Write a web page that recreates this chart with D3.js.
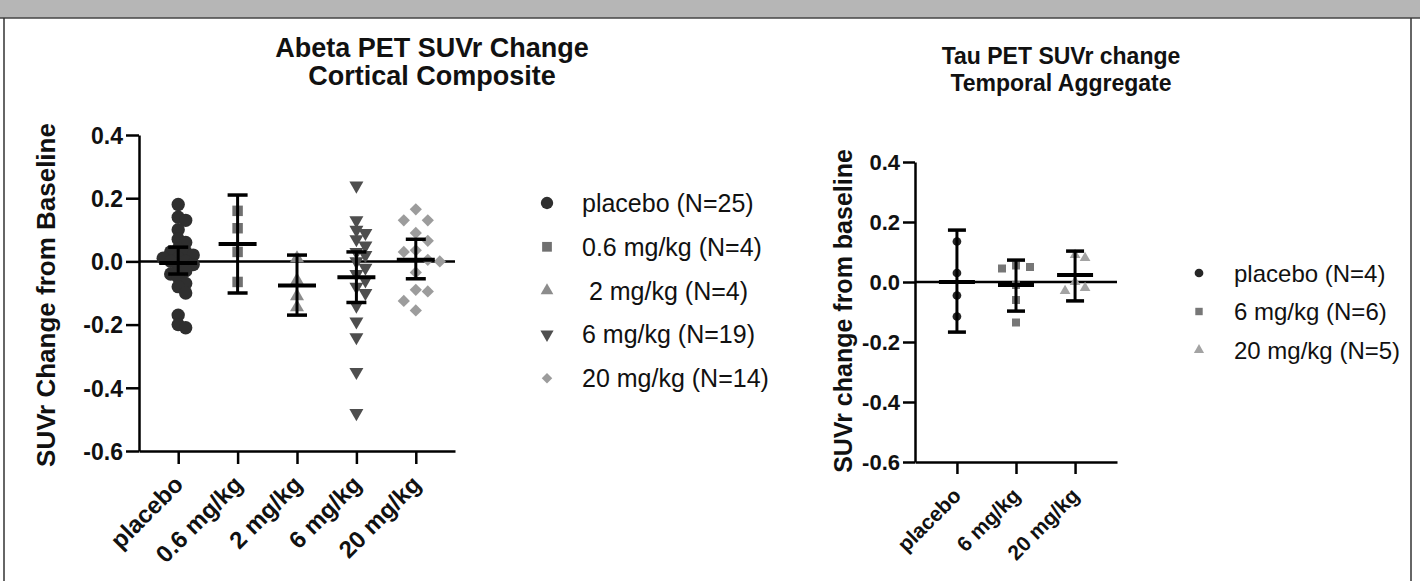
<!DOCTYPE html>
<html>
<head>
<meta charset="utf-8">
<script src="https://cdn.jsdelivr.net/npm/d3@7"></script>
<style>
  body { margin: 0; background: #fff; }
  svg { display: block; }
  text { font-family: "Liberation Sans", Arial, sans-serif; fill: #111; }
</style>
</head>
<body>
<svg id="chart" width="1420" height="581"></svg>
<script>
// ---- data ----
var yTicks = [0.4, 0.2, 0.0, -0.2, -0.4, -0.6];

var abetaGroups = ["placebo", "0.6 mg/kg", "2 mg/kg", "6 mg/kg", "20 mg/kg"];
var abetaLegend = ["placebo (N=25)", "0.6 mg/kg (N=4)", " 2 mg/kg (N=4)", "6 mg/kg (N=19)", "20 mg/kg (N=14)"];
var abetaPlacebo = [0.18, 0.14, 0.13, 0.10, 0.07, 0.06, 0.04, 0.03, 0.03, 0.02, 0.01, 0.01, 0.00,
                    0.00, -0.01, -0.02, -0.03, -0.04, -0.05, -0.07, -0.08, -0.10, -0.17, -0.20, -0.21];
var abeta06 = [0.16, 0.105, 0.03, -0.065];
var abeta2 = [0.01, -0.06, -0.11, -0.145];
var abeta6 = [0.24, 0.13, 0.10, 0.09, 0.07, 0.05, 0.03, 0.02, 0.00, -0.02,
              -0.04, -0.06, -0.08, -0.10, -0.14, -0.19, -0.24, -0.35, -0.48];
var abeta20 = [0.165, 0.13, 0.13, 0.09, 0.065, 0.035, 0.03, 0.005, 0.0,
               -0.035, -0.09, -0.095, -0.125, -0.155];
var abetaMean = [-0.005, 0.055, -0.076, -0.05, 0.005];
var abetaLow = [-0.04, -0.10, -0.17, -0.13, -0.055];
var abetaHigh = [0.045, 0.21, 0.02, 0.03, 0.07];

var tauGroups = ["placebo", "6 mg/kg", "20 mg/kg"];
var tauLegend = ["placebo (N=4)", "6 mg/kg (N=6)", "20 mg/kg (N=5)"];
var tauPlacebo = [0.135, 0.03, -0.045, -0.115];
var tau6 = [0.055, 0.05, 0.045, -0.01, -0.06, -0.135];
var tau20 = [0.09, 0.08, 0.0, -0.02, -0.03];
var tauMean = [0.0, -0.01, 0.023];
var tauLow = [-0.167, -0.097, -0.063];
var tauHigh = [0.173, 0.073, 0.103];

var svg = d3.select("#chart");

/*
 * page frame: grey strip on top, thin rules round the white panel
 */
svg.append("rect").attr("width", 1420).attr("height", 18).attr("fill", "#b6b6b6");
svg.append("line").attr("x1", 0).attr("x2", 1420).attr("y1", 18).attr("y2", 18)
    .attr("stroke", "#444").attr("stroke-width", 1.5);
[4, 1411].forEach(function(xx) {
    svg.append("line").attr("x1", xx).attr("x2", xx).attr("y1", 18).attr("y2", 581)
        .attr("stroke", "#333").attr("stroke-width", 1.5);
});

/*
 * symbol path for a marker kind
 */
function markerPath(kind, size) {
    var t = {circle: d3.symbolCircle, square: d3.symbolSquare, up: d3.symbolTriangle,
             down: d3.symbolTriangle, diamond: d3.symbolSquare}[kind];
    return d3.symbol().type(t).size(size)();
}

function markerRotate(kind) {
    if (kind === "down") return " rotate(180)";
    if (kind === "diamond") return " rotate(45)";
    return "";
}

/*
 * spread close values sideways, like a prism scatter dot plot
 */
function swarm(values, y, step) {
    var placed = [], out = [];
    values.slice().sort(function(a, b) { return b - a; }).forEach(function(v) {
        var py = y(v), k = 0, dx, ok;
        while (true) {
            dx = (k === 0) ? 0 : Math.ceil(k / 2) * step * (k % 2 ? 1 : -1);
            ok = placed.every(function(p) {
                return Math.abs(p.dx - dx) >= step * 0.95 || Math.abs(p.y - py) >= step * 0.95;
            });
            if (ok) break;
            k++;
        }
        placed.push({dx: dx, y: py});
        out.push({v: v, dx: dx});
    });
    return out;
}

function drawPanel(cfg) {
    var g = svg.append("g");
    var y = d3.scaleLinear().domain([-0.6, 0.4]).range([cfg.bottom, cfg.top]);
    var x = d3.scalePoint().domain(cfg.groups).range([cfg.left, cfg.right]).padding(cfg.pad);

    // zero line
    g.append("line")
        .attr("x1", cfg.left).attr("x2", cfg.right)
        .attr("y1", y(0)).attr("y2", y(0))
        .attr("stroke", "#000").attr("stroke-width", 2.5);

    // points
    cfg.series.forEach(function(vals, i) {
        var pts = swarm(vals, y, cfg.spread[i]);
        g.selectAll(null).data(pts).enter().append("path")
            .attr("d", markerPath(cfg.kinds[i], cfg.sizes[i]))
            .attr("transform", function(p) {
                return "translate(" + (x(cfg.groups[i]) + p.dx) + "," + y(p.v) + ")" + markerRotate(cfg.kinds[i]);
            })
            .attr("fill", cfg.colors[i]);
    });

    // mean and error bars
    cfg.groups.forEach(function(grp, i) {
        var cx = x(grp);
        g.append("line").attr("x1", cx).attr("x2", cx)
            .attr("y1", y(cfg.high[i])).attr("y2", y(cfg.low[i]))
            .attr("stroke", "#000").attr("stroke-width", 3);
        [cfg.high[i], cfg.low[i]].forEach(function(v) {
            g.append("line").attr("x1", cx - cfg.cap / 2).attr("x2", cx + cfg.cap / 2)
                .attr("y1", y(v)).attr("y2", y(v))
                .attr("stroke", "#000").attr("stroke-width", 3.5);
        });
        g.append("line").attr("x1", cx - cfg.meanW / 2).attr("x2", cx + cfg.meanW / 2)
            .attr("y1", y(cfg.mean[i])).attr("y2", y(cfg.mean[i]))
            .attr("stroke", "#000").attr("stroke-width", 4);
    });

    // axes
    var ya = g.append("g").attr("transform", "translate(" + cfg.left + ",0)")
        .call(d3.axisLeft(y).tickValues(yTicks).tickSize(cfg.tick).tickSizeOuter(0)
              .tickFormat(function(d) { return d.toFixed(1); }));
    var xa = g.append("g").attr("transform", "translate(0," + cfg.bottom + ")")
        .call(d3.axisBottom(x).tickSize(cfg.tick).tickSizeOuter(0));
    [ya, xa].forEach(function(a) {
        a.select(".domain").attr("stroke", "#000").attr("stroke-width", 2.5);
        a.selectAll(".tick line").attr("stroke", "#000").attr("stroke-width", 2.5);
    });
    ya.selectAll(".tick text")
        .attr("x", -(cfg.tick + 3)).attr("dy", "0.36em")
        .style("font-size", cfg.tickSize).style("font-weight", "bold").attr("fill", "#111");
    xa.selectAll(".tick text")
        .attr("text-anchor", "end")
        .attr("transform", "translate(" + cfg.xlabDx + "," + cfg.xlabDy + ") rotate(-45)")
        .attr("x", 0).attr("y", 0).attr("dy", 0)
        .style("font-size", cfg.xlabSize).style("font-weight", "bold").attr("fill", "#111");

    // y label
    g.append("text")
        .attr("transform", "translate(" + cfg.ylabX + "," + cfg.ylabY + ") rotate(-90)")
        .attr("text-anchor", "middle")
        .style("font-size", cfg.ylabSize).style("font-weight", "bold")
        .text(cfg.ylab);

    // title
    cfg.title.forEach(function(t, k) {
        g.append("text")
            .attr("x", cfg.titleX).attr("y", cfg.titleY + k * cfg.titleGap)
            .attr("text-anchor", "middle")
            .style("font-size", cfg.titleSize).style("font-weight", "bold")
            .text(t);
    });

    // legend
    var lg = g.selectAll(".leg").data(cfg.legend).enter().append("g")
        .attr("transform", function(d, i) { return "translate(" + cfg.legX + "," + (cfg.legY + i * cfg.legGap) + ")"; });
    lg.append("path")
        .attr("d", function(d, i) { return markerPath(cfg.kinds[i], cfg.legSizes[i]); })
        .attr("transform", function(d, i) { return markerRotate(cfg.kinds[i]).trim(); })
        .attr("fill", function(d, i) { return cfg.colors[i]; });
    lg.append("text")
        .attr("x", cfg.legText).attr("dy", "0.36em")
        .style("font-size", cfg.legSize).style("white-space", "pre")
        .text(function(d) { return d; });
}

drawPanel({
    groups: abetaGroups,
    series: [abetaPlacebo, abeta06, abeta2, abeta6, abeta20],
    mean: abetaMean, low: abetaLow, high: abetaHigh,
    kinds: ["circle", "square", "up", "down", "diamond"],
    colors: ["#2f2f2f", "#707070", "#8c8c8c", "#4e4e4e", "#9c9c9c"],
    sizes: [140, 110, 85, 85, 75],
    legSizes: [120, 95, 70, 75, 55],
    spread: [7.5, 10, 10, 9, 12], cap: 20, meanW: 38, tick: 13,
    left: 139, right: 455, top: 135, bottom: 451, pad: 0.66,
    tickSize: "23px", xlabSize: "24px", xlabDx: 6, xlabDy: 35,
    ylab: "SUVr Change from Baseline", ylabX: 55, ylabY: 295, ylabSize: "26px",
    title: ["Abeta PET SUVr Change", "Cortical Composite"],
    titleX: 432, titleY: 57, titleGap: 28, titleSize: "27px",
    legend: abetaLegend, legX: 547, legY: 203, legGap: 43.8, legText: 35, legSize: "25px"
});

drawPanel({
    groups: tauGroups,
    series: [tauPlacebo, tau6, tau20],
    mean: tauMean, low: tauLow, high: tauHigh,
    kinds: ["circle", "square", "up"],
    colors: ["#262626", "#777777", "#a3a3a3"],
    sizes: [60, 64, 50],
    legSizes: [60, 55, 45],
    spread: [9, 14, 10], cap: 18, meanW: 36, tick: 12,
    left: 915, right: 1117, top: 162, bottom: 462, pad: 0.71,
    tickSize: "22px", xlabSize: "21px", xlabDx: 5, xlabDy: 35,
    ylab: "SUVr change from baseline", ylabX: 852, ylabY: 311, ylabSize: "25px",
    title: ["Tau PET SUVr change", "Temporal Aggregate"],
    titleX: 1061, titleY: 64, titleGap: 27, titleSize: "23px",
    legend: tauLegend, legX: 1199, legY: 273, legGap: 38.5, legText: 35, legSize: "24px"
});
</script>
</body>
</html>
